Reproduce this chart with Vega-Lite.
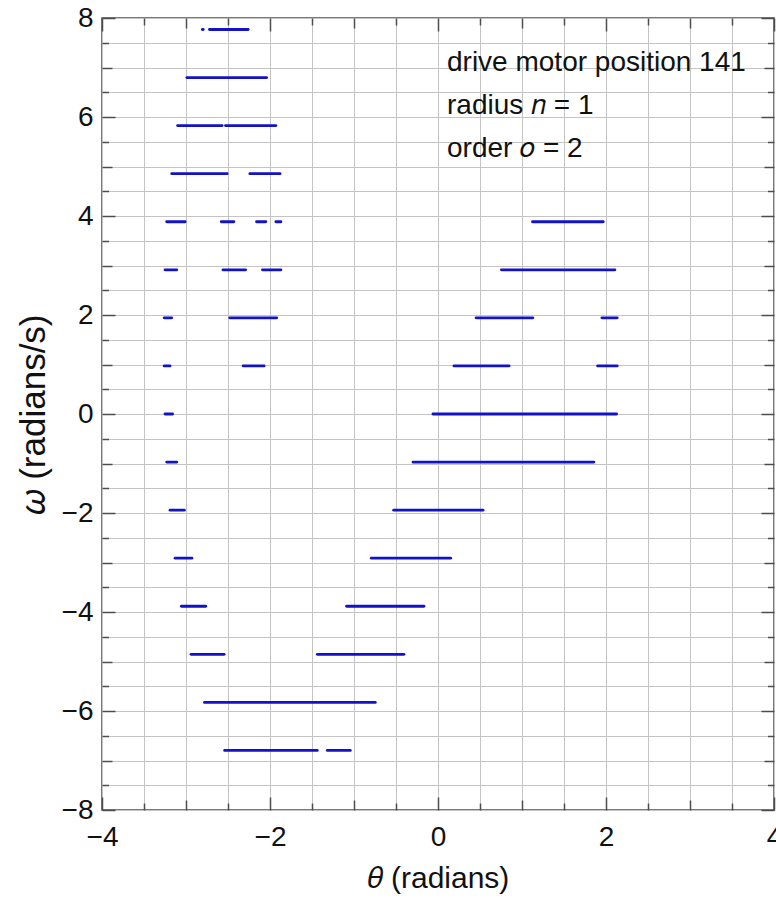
{
  "$schema": "https://vega.github.io/schema/vega-lite/v6.json",
  "width": 672,
  "height": 792,
  "autosize": {"type": "none"},
  "padding": {"left": 102, "top": 18, "right": 2, "bottom": 90},
  "background": "white",
  "config": {"view": {"stroke": "#4d4d4d", "strokeWidth": 1.5}, "font": "Liberation Sans"},
  "datasets": {
    "segs": [
      {"omega": 7.768, "x1": -2.805, "x2": -2.795},
      {"omega": 7.768, "x1": -2.72, "x2": -2.26},
      {"omega": 6.797, "x1": -2.99, "x2": -2.04},
      {"omega": 5.826, "x1": -3.10, "x2": -2.57},
      {"omega": 5.826, "x1": -2.53, "x2": -1.93},
      {"omega": 4.855, "x1": -3.17, "x2": -2.51},
      {"omega": 4.855, "x1": -2.24, "x2": -1.88},
      {"omega": 3.884, "x1": -3.23, "x2": -3.01},
      {"omega": 3.884, "x1": -2.58, "x2": -2.43},
      {"omega": 3.884, "x1": -2.16, "x2": -2.05},
      {"omega": 3.884, "x1": -1.93, "x2": -1.87},
      {"omega": 3.884, "x1": 1.125, "x2": 1.967},
      {"omega": 2.913, "x1": -3.25, "x2": -3.11},
      {"omega": 2.913, "x1": -2.56, "x2": -2.29},
      {"omega": 2.913, "x1": -2.09, "x2": -1.87},
      {"omega": 2.913, "x1": 0.755, "x2": 2.106},
      {"omega": 1.942, "x1": -3.26, "x2": -3.17},
      {"omega": 1.942, "x1": -2.48, "x2": -1.92},
      {"omega": 1.942, "x1": 0.453, "x2": 1.129},
      {"omega": 1.942, "x1": 1.951, "x2": 2.134},
      {"omega": 0.971, "x1": -3.26, "x2": -3.19},
      {"omega": 0.971, "x1": -2.32, "x2": -2.07},
      {"omega": 0.971, "x1": 0.19, "x2": 0.846},
      {"omega": 0.971, "x1": 1.90, "x2": 2.134},
      {"omega": 0, "x1": -3.25, "x2": -3.16},
      {"omega": 0, "x1": -0.06, "x2": 2.126},
      {"omega": -0.971, "x1": -3.23, "x2": -3.11},
      {"omega": -0.971, "x1": -0.298, "x2": 1.856},
      {"omega": -1.942, "x1": -3.19, "x2": -3.02},
      {"omega": -1.942, "x1": -0.528, "x2": 0.536},
      {"omega": -2.913, "x1": -3.13, "x2": -2.93},
      {"omega": -2.913, "x1": -0.794, "x2": 0.151},
      {"omega": -3.884, "x1": -3.055, "x2": -2.765},
      {"omega": -3.884, "x1": -1.088, "x2": -0.167},
      {"omega": -4.855, "x1": -2.94, "x2": -2.546},
      {"omega": -4.855, "x1": -1.437, "x2": -0.405},
      {"omega": -5.826, "x1": -2.78, "x2": -0.746},
      {"omega": -6.797, "x1": -2.54, "x2": -1.437},
      {"omega": -6.797, "x1": -1.318, "x2": -1.044}
    ],
    "notes": [
      {"x": 0.107, "y": 6.93, "label": "drive motor position 141"},
      {"x": 0.107, "y": 6.06, "label": "radius 𝑛 = 1"},
      {"x": 0.107, "y": 5.2, "label": "order 𝑜 = 2"}
    ]
  },
  "layer": [
    {
      "data": {"name": "segs"},
      "mark": {"type": "rule", "color": "#1212c8", "strokeWidth": 2.8, "strokeCap": "round"},
      "encoding": {
        "x": {
          "field": "x1", "type": "quantitative",
          "scale": {"domain": [-4, 4], "nice": false, "zero": false},
          "axis": {
            "orient": "bottom",
            "values": [-4, -3.5, -3, -2.5, -2, -1.5, -1, -0.5, 0, 0.5, 1, 1.5, 2, 2.5, 3, 3.5, 4],
            "grid": true, "gridColor": "#c4c4c4", "gridWidth": 1,
            "ticks": false, "domain": false,
            "labelExpr": "datum.value % 2 === 0 ? format(datum.value, 'd') : ''",
            "labelFontSize": 28, "labelColor": "#111111", "labelPadding": 13,
            "labelFlush": false, "labelOverlap": false, "labelBound": false,
            "title": "𝜃 (radians)", "titleFontSize": 30, "titleFontWeight": "normal",
            "titleColor": "#111111", "titlePadding": 12
          }
        },
        "x2": {"field": "x2"},
        "y": {
          "field": "omega", "type": "quantitative",
          "scale": {"domain": [-8, 8], "nice": false, "zero": false},
          "axis": {
            "orient": "left",
            "values": [-8, -7.5, -7, -6.5, -6, -5.5, -5, -4.5, -4, -3.5, -3, -2.5, -2, -1.5, -1, -0.5, 0, 0.5, 1, 1.5, 2, 2.5, 3, 3.5, 4, 4.5, 5, 5.5, 6, 6.5, 7, 7.5, 8],
            "grid": true, "gridColor": "#c4c4c4", "gridWidth": 1,
            "ticks": false, "domain": false,
            "labelExpr": "datum.value % 2 === 0 ? format(datum.value, 'd') : ''",
            "labelFontSize": 28, "labelColor": "#111111", "labelPadding": 9,
            "labelFlush": false, "labelOverlap": false, "labelBound": false,
            "title": "𝜔 (radians/s)", "titleFontSize": 35, "titleFontWeight": "normal",
            "titleColor": "#111111", "titlePadding": 10
          }
        }
      }
    },
    {
      "data": {"name": "segs"},
      "mark": {"type": "point", "opacity": 0},
      "encoding": {
        "x": {"field": "x1", "type": "quantitative", "axis": {"orient": "bottom", "values": [-4, -2, 0, 2, 4], "tickSize": -13, "tickColor": "#4d4d4d", "tickWidth": 1.5, "labels": false, "grid": false, "domain": false, "title": null}},
        "y": {"field": "omega", "type": "quantitative", "axis": {"orient": "left", "values": [-8, -6, -4, -2, 0, 2, 4, 6, 8], "tickSize": -13, "tickColor": "#4d4d4d", "tickWidth": 1.5, "labels": false, "grid": false, "domain": false, "title": null}}
      }
    },
    {
      "data": {"name": "segs"},
      "mark": {"type": "point", "opacity": 0},
      "encoding": {
        "x": {"field": "x1", "type": "quantitative", "axis": {"orient": "bottom", "values": [-3, -1, 1, 3], "tickSize": -10, "tickColor": "#4d4d4d", "tickWidth": 1.5, "labels": false, "grid": false, "domain": false, "title": null}},
        "y": {"field": "omega", "type": "quantitative", "axis": {"orient": "left", "values": [-7, -5, -3, -1, 1, 3, 5, 7], "tickSize": -10, "tickColor": "#4d4d4d", "tickWidth": 1.5, "labels": false, "grid": false, "domain": false, "title": null}}
      }
    },
    {
      "data": {"name": "segs"},
      "mark": {"type": "point", "opacity": 0},
      "encoding": {
        "x": {"field": "x1", "type": "quantitative", "axis": {"orient": "bottom", "values": [-3.5, -2.5, -1.5, -0.5, 0.5, 1.5, 2.5, 3.5], "tickSize": -7, "tickColor": "#4d4d4d", "tickWidth": 1.5, "labels": false, "grid": false, "domain": false, "title": null}},
        "y": {"field": "omega", "type": "quantitative", "axis": {"orient": "left", "values": [-7.5, -6.5, -5.5, -4.5, -3.5, -2.5, -1.5, -0.5, 0.5, 1.5, 2.5, 3.5, 4.5, 5.5, 6.5, 7.5], "tickSize": -6.5, "tickColor": "#4d4d4d", "tickWidth": 1.5, "labels": false, "grid": false, "domain": false, "title": null}}
      }
    },
    {
      "data": {"name": "segs"},
      "mark": {"type": "point", "opacity": 0},
      "encoding": {
        "x": {"field": "x1", "type": "quantitative", "axis": {"orient": "top", "values": [-4, -2, 0, 2, 4], "tickSize": -13, "tickColor": "#4d4d4d", "tickWidth": 1.5, "labels": false, "grid": false, "domain": false, "title": null}},
        "y": {"field": "omega", "type": "quantitative", "axis": {"orient": "right", "values": [-8, -6, -4, -2, 0, 2, 4, 6, 8], "tickSize": -13, "tickColor": "#4d4d4d", "tickWidth": 1.5, "labels": false, "grid": false, "domain": false, "title": null}}
      }
    },
    {
      "data": {"name": "segs"},
      "mark": {"type": "point", "opacity": 0},
      "encoding": {
        "x": {"field": "x1", "type": "quantitative", "axis": {"orient": "top", "values": [-3, -1, 1, 3], "tickSize": -10, "tickColor": "#4d4d4d", "tickWidth": 1.5, "labels": false, "grid": false, "domain": false, "title": null}},
        "y": {"field": "omega", "type": "quantitative", "axis": {"orient": "right", "values": [-7, -5, -3, -1, 1, 3, 5, 7], "tickSize": -10, "tickColor": "#4d4d4d", "tickWidth": 1.5, "labels": false, "grid": false, "domain": false, "title": null}}
      }
    },
    {
      "data": {"name": "segs"},
      "mark": {"type": "point", "opacity": 0},
      "encoding": {
        "x": {"field": "x1", "type": "quantitative", "axis": {"orient": "top", "values": [-3.5, -2.5, -1.5, -0.5, 0.5, 1.5, 2.5, 3.5], "tickSize": -7, "tickColor": "#4d4d4d", "tickWidth": 1.5, "labels": false, "grid": false, "domain": false, "title": null}},
        "y": {"field": "omega", "type": "quantitative", "axis": {"orient": "right", "values": [-7.5, -6.5, -5.5, -4.5, -3.5, -2.5, -1.5, -0.5, 0.5, 1.5, 2.5, 3.5, 4.5, 5.5, 6.5, 7.5], "tickSize": -6.5, "tickColor": "#4d4d4d", "tickWidth": 1.5, "labels": false, "grid": false, "domain": false, "title": null}}
      }
    },
    {
      "data": {"name": "notes"},
      "mark": {"type": "text", "align": "left", "baseline": "alphabetic", "fontSize": 28, "font": "Liberation Sans", "color": "#111111"},
      "encoding": {
        "x": {"field": "x", "type": "quantitative", "axis": null},
        "y": {"field": "y", "type": "quantitative", "axis": null},
        "text": {"field": "label"}
      }
    }
  ],
  "resolve": {"axis": {"x": "independent", "y": "independent"}}
}
